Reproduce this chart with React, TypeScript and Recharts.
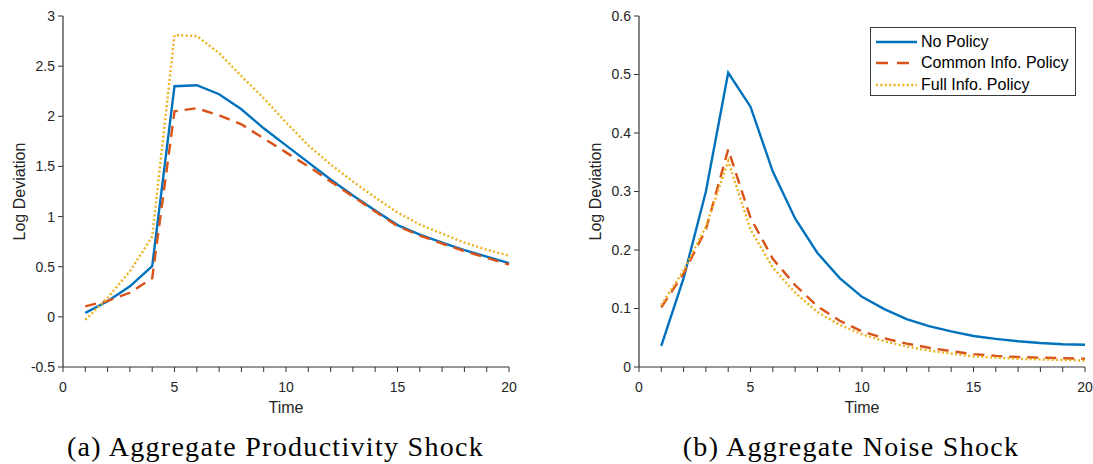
import React from 'react';
import { LineChart, Line, XAxis, YAxis } from 'recharts';

const time = [1, 2, 3, 4, 5, 6, 7, 8, 9, 10, 11, 12, 13, 14, 15, 16, 17, 18, 19, 20];

const prodNoPolicy = [0.04, 0.155, 0.305, 0.505, 2.3, 2.31, 2.22, 2.07, 1.88, 1.71, 1.54, 1.37, 1.21, 1.06, 0.915, 0.82, 0.74, 0.665, 0.6, 0.535];
const prodCommon = [0.105, 0.16, 0.24, 0.385, 2.05, 2.08, 2.01, 1.92, 1.78, 1.64, 1.5, 1.35, 1.2, 1.05, 0.905, 0.81, 0.73, 0.655, 0.59, 0.52];
const prodFull = [-0.03, 0.19, 0.455, 0.8, 2.81, 2.8, 2.63, 2.4, 2.18, 1.94, 1.71, 1.52, 1.35, 1.19, 1.04, 0.92, 0.83, 0.74, 0.67, 0.61];

const noiseNoPolicy = [0.036, 0.152, 0.3, 0.503, 0.445, 0.334, 0.254, 0.195, 0.152, 0.12, 0.099, 0.082, 0.07, 0.061, 0.053, 0.048, 0.044, 0.041, 0.039, 0.038];
const noiseCommon = [0.102, 0.16, 0.235, 0.372, 0.255, 0.185, 0.14, 0.104, 0.079, 0.061, 0.049, 0.04, 0.033, 0.027, 0.022, 0.019, 0.017, 0.016, 0.015, 0.014];
const noiseFull = [0.106, 0.165, 0.24, 0.352, 0.235, 0.17, 0.127, 0.094, 0.072, 0.056, 0.044, 0.035, 0.028, 0.023, 0.018, 0.016, 0.014, 0.013, 0.012, 0.011];

const xTicks = [0, 1, 2, 3, 4, 5, 6, 7, 8, 9, 10, 11, 12, 13, 14, 15, 16, 17, 18, 19, 20];
const prodYTicks = [-0.5, 0, 0.5, 1, 1.5, 2, 2.5, 3];
const noiseYTicks = [0, 0.1, 0.2, 0.3, 0.4, 0.5, 0.6];

const seriesNames = ['No Policy', 'Common Info. Policy', 'Full Info. Policy'];
const captions = ['(a) Aggregate Productivity Shock', '(b) Aggregate Noise Shock'];
const xTitle = 'Time';
const yTitle = 'Log Deviation';

const COLORS = ['#0072BD', '#D95319', '#EDB120'];
const DASHES = [undefined, '11 7', '2 2.4'];
const SANS = '"Liberation Sans", Arial, Helvetica, sans-serif';
const AXIS = '#333333';
const TEXT = '#262626';

const prodData = time.map((t, i) => ({ t, a: prodNoPolicy[i], b: prodCommon[i], c: prodFull[i] }));
const noiseData = time.map((t, i) => ({ t, a: noiseNoPolicy[i], b: noiseCommon[i], c: noiseFull[i] }));

const renderYTitle = (p: any) => {
  const vb = p.viewBox || { x: 0, y: 16, width: 63, height: 351 };
  const cx = vb.x + 19;
  const cy = vb.y + vb.height / 2;
  return (
    <text x={cx} y={cy} transform={`rotate(-90, ${cx}, ${cy})`} textAnchor="middle" dominantBaseline="central" fill={TEXT} fontSize={16} fontFamily={SANS}>
      {yTitle}
    </text>
  );
};

const renderXTitle = (p: any) => {
  const vb = p.viewBox || { x: 63, y: 367, width: 446, height: 53 };
  return (
    <text x={vb.x + vb.width / 2} y={vb.y + 40} textAnchor="middle" dominantBaseline="central" fill={TEXT} fontSize={16} fontFamily={SANS}>
      {xTitle}
    </text>
  );
};

function Panel({ data, yTicks, yDomain }: { data: any[]; yTicks: number[]; yDomain: [number, number] }) {
  return (
    <LineChart width={541} height={420} data={data} margin={{ top: 16, right: 32, left: 0, bottom: 0 }}>
      <XAxis
        dataKey="t"
        type="number"
        domain={[0, 20]}
        ticks={xTicks}
        interval={0}
        tickFormatter={(v: number) => (v % 5 === 0 ? String(v) : '')}
        height={53}
        tickSize={5}
        tickMargin={10}
        stroke={AXIS}
        axisLine={{ stroke: AXIS, strokeWidth: 1.2 }}
        tickLine={{ stroke: AXIS, strokeWidth: 1 }}
        tick={{ fill: TEXT, fontSize: 14, fontFamily: SANS }}
        label={{ content: renderXTitle }}
      />
      <YAxis
        type="number"
        domain={yDomain}
        ticks={yTicks}
        interval={0}
        width={63}
        tickSize={5}
        tickMargin={3}
        stroke={AXIS}
        axisLine={{ stroke: AXIS, strokeWidth: 1.2 }}
        tickLine={{ stroke: AXIS, strokeWidth: 1 }}
        tick={{ fill: TEXT, fontSize: 14, fontFamily: SANS }}
        allowDataOverflow
        label={{ content: renderYTitle }}
      />
      {(['a', 'b', 'c'] as const).map((k, i) => (
        <Line
          key={k}
          dataKey={k}
          name={seriesNames[i]}
          type="linear"
          stroke={COLORS[i]}
          strokeWidth={2.4}
          strokeDasharray={DASHES[i]}
          dot={false}
          activeDot={false}
          isAnimationActive={false}
        />
      ))}
    </LineChart>
  );
}

function LegendBox() {
  return (
    <div
      style={{
        position: 'absolute',
        left: 870,
        top: 27,
        width: 204,
        height: 67,
        border: '1.3px solid #3a3a3a',
        background: '#fff',
        fontFamily: SANS,
        fontSize: 16,
        color: '#000',
      }}
    >
      {seriesNames.map((n, i) => (
        <div key={n} style={{ position: 'absolute', left: 4, top: 3 + i * 21.5, height: 21, display: 'flex', alignItems: 'center' }}>
          <svg width={42} height={10} style={{ display: 'block' }}>
            <line x1={1} y1={5} x2={42} y2={5} stroke={COLORS[i]} strokeWidth={2.4} strokeDasharray={i === 1 ? '12 9' : DASHES[i]} />
          </svg>
          <span style={{ marginLeft: 4, whiteSpace: 'nowrap' }}>{n}</span>
        </div>
      ))}
    </div>
  );
}

const captionStyle: React.CSSProperties = {
  position: 'absolute',
  top: 433,
  fontFamily: '"Liberation Serif", "Times New Roman", serif',
  fontSize: 28,
  lineHeight: '28px',
  letterSpacing: 1.3,
  color: '#000',
  textAlign: 'center',
  whiteSpace: 'nowrap',
};

export default function App() {
  return (
    <div style={{ position: 'absolute', left: 0, top: 0, width: 1093, height: 464, background: '#fff', overflow: 'hidden' }}>
      <div style={{ position: 'absolute', left: 0, top: 0 }}>
        <Panel data={prodData} yTicks={prodYTicks} yDomain={[-0.5, 3]} />
      </div>
      <div style={{ position: 'absolute', left: 576, top: 0 }}>
        <Panel data={noiseData} yTicks={noiseYTicks} yDomain={[0, 0.6]} />
      </div>
      <LegendBox />
      <div style={{ ...captionStyle, left: 0, width: 551 }}>{captions[0]}</div>
      <div style={{ ...captionStyle, left: 576, width: 550 }}>{captions[1]}</div>
    </div>
  );
}
